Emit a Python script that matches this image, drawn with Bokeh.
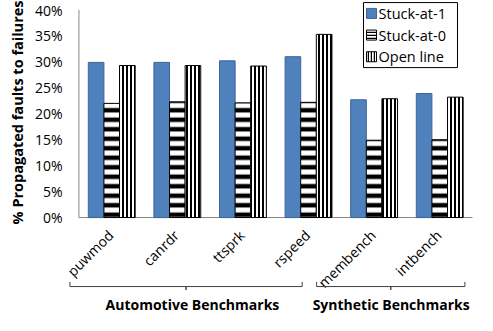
import math
from bokeh.plotting import figure
from bokeh.models import ColumnDataSource, Range1d, FixedTicker, PrintfTickFormatter, Title
from bokeh.transform import dodge
from bokeh.core.properties import value
from bokeh.embed import file_html
from bokeh.resources import INLINE

# ---- data ----
benchmarks = ["puwmod", "canrdr", "ttsprk", "rspeed", "membench", "intbench"]
stuck_at_1 = [29.9, 29.9, 30.2, 31.0, 22.7, 23.9]
stuck_at_0 = [22.0, 22.3, 22.1, 22.2, 14.9, 15.0]
open_line = [29.3, 29.3, 29.2, 35.3, 22.9, 23.2]
series_names = ["Stuck-at-1", "Stuck-at-0", "Open line"]
group_names = ["Automotive Benchmarks", "Synthetic Benchmarks"]
y_ticks = [0, 5, 10, 15, 20, 25, 30, 35, 40]

# ---- layout constants (positions / styles) ----
W, H = 477, 315
BAR_W = 0.238
FONT = "Open Sans"
AXIS_GRAY = "#868686"
brace_spans = [(-0.637, 2.903), (3.124, 5.384)]
group_text_x = [1.23, 4.26]
BRACE_Y, BRACE_TOP, BRACE_TICK = -13.3, -12.4, -13.95
LABEL_DX = -0.12
LABEL_Y = -1.6
GROUP_TEXT_Y = -16.7
# legend box (data units of the plot frame)
LEG_X0, LEG_X1, LEG_TOP, LEG_BOTTOM = 3.838, 5.271, 41.43, 28.9
LEG_SW_X0, LEG_SW_X1, LEG_TEXT_X, LEG_SW_H = 3.884, 4.036, 4.067, 1.93

styles = [
    dict(fill_color="#4F81BD", line_color="#3B649A"),
    dict(fill_color="white", line_color="black", hatch_pattern="horizontal_line",
         hatch_color="black"),
    dict(fill_color="white", line_color="black", hatch_pattern="vertical_line",
         hatch_color="black"),
]
bar_hatch = [dict(), dict(hatch_scale=9.5, hatch_weight=4.5), dict(hatch_scale=4, hatch_weight=2)]
swatch_hatch = [dict(), dict(hatch_scale=3, hatch_weight=1.5), dict(hatch_scale=3, hatch_weight=1.5)]

idx = list(range(len(benchmarks)))
src = ColumnDataSource(dict(idx=idx, names=benchmarks, s1=stuck_at_1, s0=stuck_at_0, ol=open_line))

p = figure(width=W, height=H, output_backend="svg", toolbar_location=None,
           x_range=Range1d(-0.72, 5.576), y_range=Range1d(-18.88, 41.83),
           x_axis_location=None, min_border_left=64, min_border_right=0,
           min_border_top=0, min_border_bottom=0)
p.outline_line_color = None
p.grid.visible = False

yax = p.yaxis[0]
yax.ticker = FixedTicker(ticks=y_ticks)
yax.formatter = PrintfTickFormatter(format="%d%%")
yax.axis_line_color = None
yax.major_tick_line_color = None
yax.minor_tick_line_color = None
yax.major_tick_out = 0
yax.major_tick_in = 0
yax.minor_tick_out = 0
yax.major_label_standoff = 2
yax.major_label_text_font = FONT
yax.major_label_text_font_size = "14px"
yax.major_label_text_color = "black"

ytitle = Title(text="% Propagated faults to failures", align="right",
               text_font=FONT, text_font_size="14.5px", text_font_style="bold",
               text_color="black", offset=0, standoff=10)
p.add_layout(ytitle, "left")

# axis lines
p.segment(x0=[-0.5], y0=[0], x1=[-0.5], y1=[y_ticks[-1]], line_color=AXIS_GRAY, line_width=1)
p.segment(x0=[-0.5], y0=[0], x1=[len(benchmarks) - 0.5], y1=[0], line_color=AXIS_GRAY, line_width=1)

cols = ["s1", "s0", "ol"]
offsets = [-BAR_W, 0, BAR_W]
for c, off, st, hh in zip(cols, offsets, styles, bar_hatch):
    p.vbar(x=dodge("idx", off, range=p.x_range), top=c, bottom=0, width=BAR_W, source=src,
           line_width=1, **st, **hh)

# category labels
p.text(x=dodge("idx", LABEL_DX, range=p.x_range), y=LABEL_Y, text="names", source=src,
       angle=math.pi / 4, text_align="right", text_baseline="top",
       text_font=value(FONT), text_font_size="14px", text_color="black")

# braces & group labels
bxs, bys = [], []
for (l, r) in brace_spans:
    m = (l + r) / 2
    bxs.append([l, l, m, m, m, r, r])
    bys.append([BRACE_TOP, BRACE_Y, BRACE_Y, BRACE_TICK, BRACE_Y, BRACE_Y, BRACE_TOP])
p.multi_line(xs=bxs, ys=bys, line_color="#404040", line_width=1)
p.text(x=group_text_x, y=[GROUP_TEXT_Y] * len(group_text_x), text=group_names,
       text_align="center", text_baseline="alphabetic", text_font=value(FONT),
       text_font_size="14px", text_font_style="bold", text_color="black")

# legend
p.quad(left=[LEG_X0], right=[LEG_X1], top=[LEG_TOP], bottom=[LEG_BOTTOM],
       fill_color="white", line_color="black", line_width=1)
row_h = (LEG_TOP - LEG_BOTTOM) / len(series_names)
for i, (name, st, hh) in enumerate(zip(series_names, styles, swatch_hatch)):
    yc = LEG_TOP - (i + 0.5) * row_h
    p.quad(left=[LEG_SW_X0], right=[LEG_SW_X1], top=[yc + LEG_SW_H / 2], bottom=[yc - LEG_SW_H / 2],
           line_width=1, **st, **hh)
    p.text(x=[LEG_TEXT_X], y=[yc], text=[name], text_baseline="middle", text_align="left",
           text_font=value(FONT), text_font_size="14.5px", text_color="black")

open("out.html", "w").write(file_html(p, INLINE))
